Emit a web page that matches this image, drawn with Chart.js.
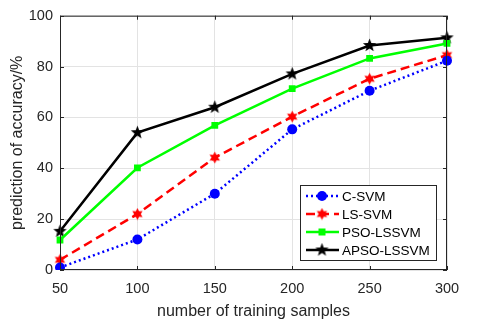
<!DOCTYPE html>
<html>
<head>
<meta charset="utf-8">
<script src="https://cdn.jsdelivr.net/npm/chart.js@4.4.0/dist/chart.umd.min.js"></script>
<style>
  html, body { margin: 0; padding: 0; background: #fff; }
</style>
</head>
<body>
<canvas id="chart" width="478" height="325"></canvas>
<script>
const samples = [50, 100, 150, 200, 250, 300];
const cSvm = [1, 12, 30, 55.3, 70.5, 82.3];
const lsSvm = [4, 22, 44.2, 60.3, 75.2, 84.5];
const psoLssvm = [11.8, 40.2, 56.9, 71.3, 83.2, 89.1];
const apsoLssvm = [15.2, 54, 64, 77.1, 88.3, 91.3];
const yTicks = [0, 20, 40, 60, 80, 100];

const FONT = "'Liberation Sans', Arial, sans-serif";
const TEXT = '#262626';

// filled star markers, drawn once into small canvases
function starImage(points, size, inner, color) {
    const cv = document.createElement('canvas');
    cv.width = size;
    cv.height = size;
    const g = cv.getContext('2d');
    const c = size / 2, r = size / 2 - 0.5;
    g.beginPath();
    for (let i = 0; i < points * 2; i++) {
        const rad = i % 2 === 0 ? r : r * inner;
        const a = -Math.PI / 2 + i * Math.PI / points;
        const px = c + rad * Math.cos(a), py = c + rad * Math.sin(a);
        if (i === 0) g.moveTo(px, py); else g.lineTo(px, py);
    }
    g.closePath();
    g.fillStyle = color;
    g.fill();
    return cv;
}

const star5 = starImage(5, 15, 0.42, '#000000');
const star6 = starImage(6, 13, 0.55, '#ff0000');

const series = [
    { label: 'C-SVM', data: cSvm, color: '#0000ff', dash: [2, 3], width: 2.5, style: 'circle', radius: 5 },
    { label: 'LS-SVM', data: lsSvm, color: '#ff0000', dash: [9, 5], width: 2.5, style: star6, radius: 7 },
    { label: 'PSO-LSSVM', data: psoLssvm, color: '#00ff00', dash: [], width: 2.5, style: 'rect', radius: 4.8 },
    { label: 'APSO-LSSVM', data: apsoLssvm, color: '#000000', dash: [], width: 2.5, style: star5, radius: 9 }
];

const frame = {
    id: 'frame',
    afterDraw(chart) {
        const { ctx, chartArea: a, scales } = chart;
        ctx.save();
        ctx.strokeStyle = '#262626';
        ctx.lineWidth = 1;
        ctx.strokeRect(a.left + 0.5, a.top + 0.5, a.right - a.left - 1, a.bottom - a.top - 1);
        ctx.beginPath();
        samples.forEach((s, i) => {
            const x = Math.round(scales.x.getPixelForValue(i)) + 0.5;
            ctx.moveTo(x, a.bottom); ctx.lineTo(x, a.bottom - 4);
            ctx.moveTo(x, a.top); ctx.lineTo(x, a.top + 4);
        });
        yTicks.forEach(v => {
            const y = Math.round(scales.y.getPixelForValue(v)) + 0.5;
            ctx.moveTo(a.left, y); ctx.lineTo(a.left + 4, y);
            ctx.moveTo(a.right, y); ctx.lineTo(a.right - 4, y);
        });
        ctx.stroke();

        // legend box
        const lx = 300, ly = 185, lw = 136, lh = 75;
        ctx.fillStyle = '#fff';
        ctx.fillRect(lx, ly, lw, lh);
        ctx.strokeStyle = '#262626';
        ctx.strokeRect(lx + 0.5, ly + 0.5, lw, lh);
        ctx.font = '13.5px ' + FONT;
        ctx.textBaseline = 'middle';
        series.forEach((s, i) => {
            const y = ly + 11 + i * 18;
            ctx.strokeStyle = s.color;
            ctx.lineWidth = s.width;
            ctx.setLineDash(s.dash);
            ctx.beginPath();
            ctx.moveTo(lx + 6, y);
            ctx.lineTo(lx + 39, y);
            ctx.stroke();
            ctx.setLineDash([]);
            ctx.fillStyle = s.color;
            const mx = lx + 22;
            if (s.style === 'circle') {
                ctx.beginPath();
                ctx.arc(mx, y, 5, 0, Math.PI * 2);
                ctx.fill();
            } else if (s.style === 'rect') {
                ctx.fillRect(mx - 3.5, y - 3.5, 7, 7);
            } else {
                const sz = s.style.width;
                ctx.drawImage(s.style, mx - sz / 2, y - sz / 2, sz, sz);
            }
            ctx.fillStyle = '#000';
            ctx.fillText(s.label, lx + 42, y + 1);
        });
        ctx.restore();
    }
};

new Chart(document.getElementById('chart'), {
    type: 'line',
    data: {
        labels: samples,
        datasets: series.map(s => ({
            label: s.label,
            data: s.data,
            borderColor: s.color,
            backgroundColor: s.color,
            borderWidth: s.width,
            borderDash: s.dash,
            pointStyle: s.style,
            pointRadius: s.radius,
            pointBorderWidth: 0,
            pointBackgroundColor: s.color,
            tension: 0,
            fill: false
        }))
    },
    options: {
        responsive: false,
        animation: false,
        layout: { padding: { top: 14, right: 31, left: 0, bottom: 0 } },
        plugins: { legend: { display: false }, tooltip: { enabled: false } },
        scales: {
            x: {
                offset: false,
                grid: { color: '#e3e3e3', drawTicks: false, offset: false },
                border: { display: false },
                ticks: { color: TEXT, font: { family: FONT, size: 14.5 }, padding: 10, maxRotation: 0 },
                title: { display: true, text: 'number of training samples', color: TEXT, font: { family: FONT, size: 16 }, padding: { top: 3 } },
                afterFit(scale) { scale.height = 55; }
            },
            y: {
                min: 0,
                max: 100,
                ticks: { stepSize: 20, color: TEXT, font: { family: FONT, size: 14.5 }, padding: 7 },
                grid: { color: '#e3e3e3', drawTicks: false },
                border: { display: false },
                title: { display: true, text: 'prediction of accuracy/%', color: TEXT, font: { family: FONT, size: 16 }, padding: { top: 8, bottom: 0 } },
                afterFit(scale) { scale.width = 60; }
            }
        }
    },
    plugins: [frame]
});
</script>
</body>
</html>
